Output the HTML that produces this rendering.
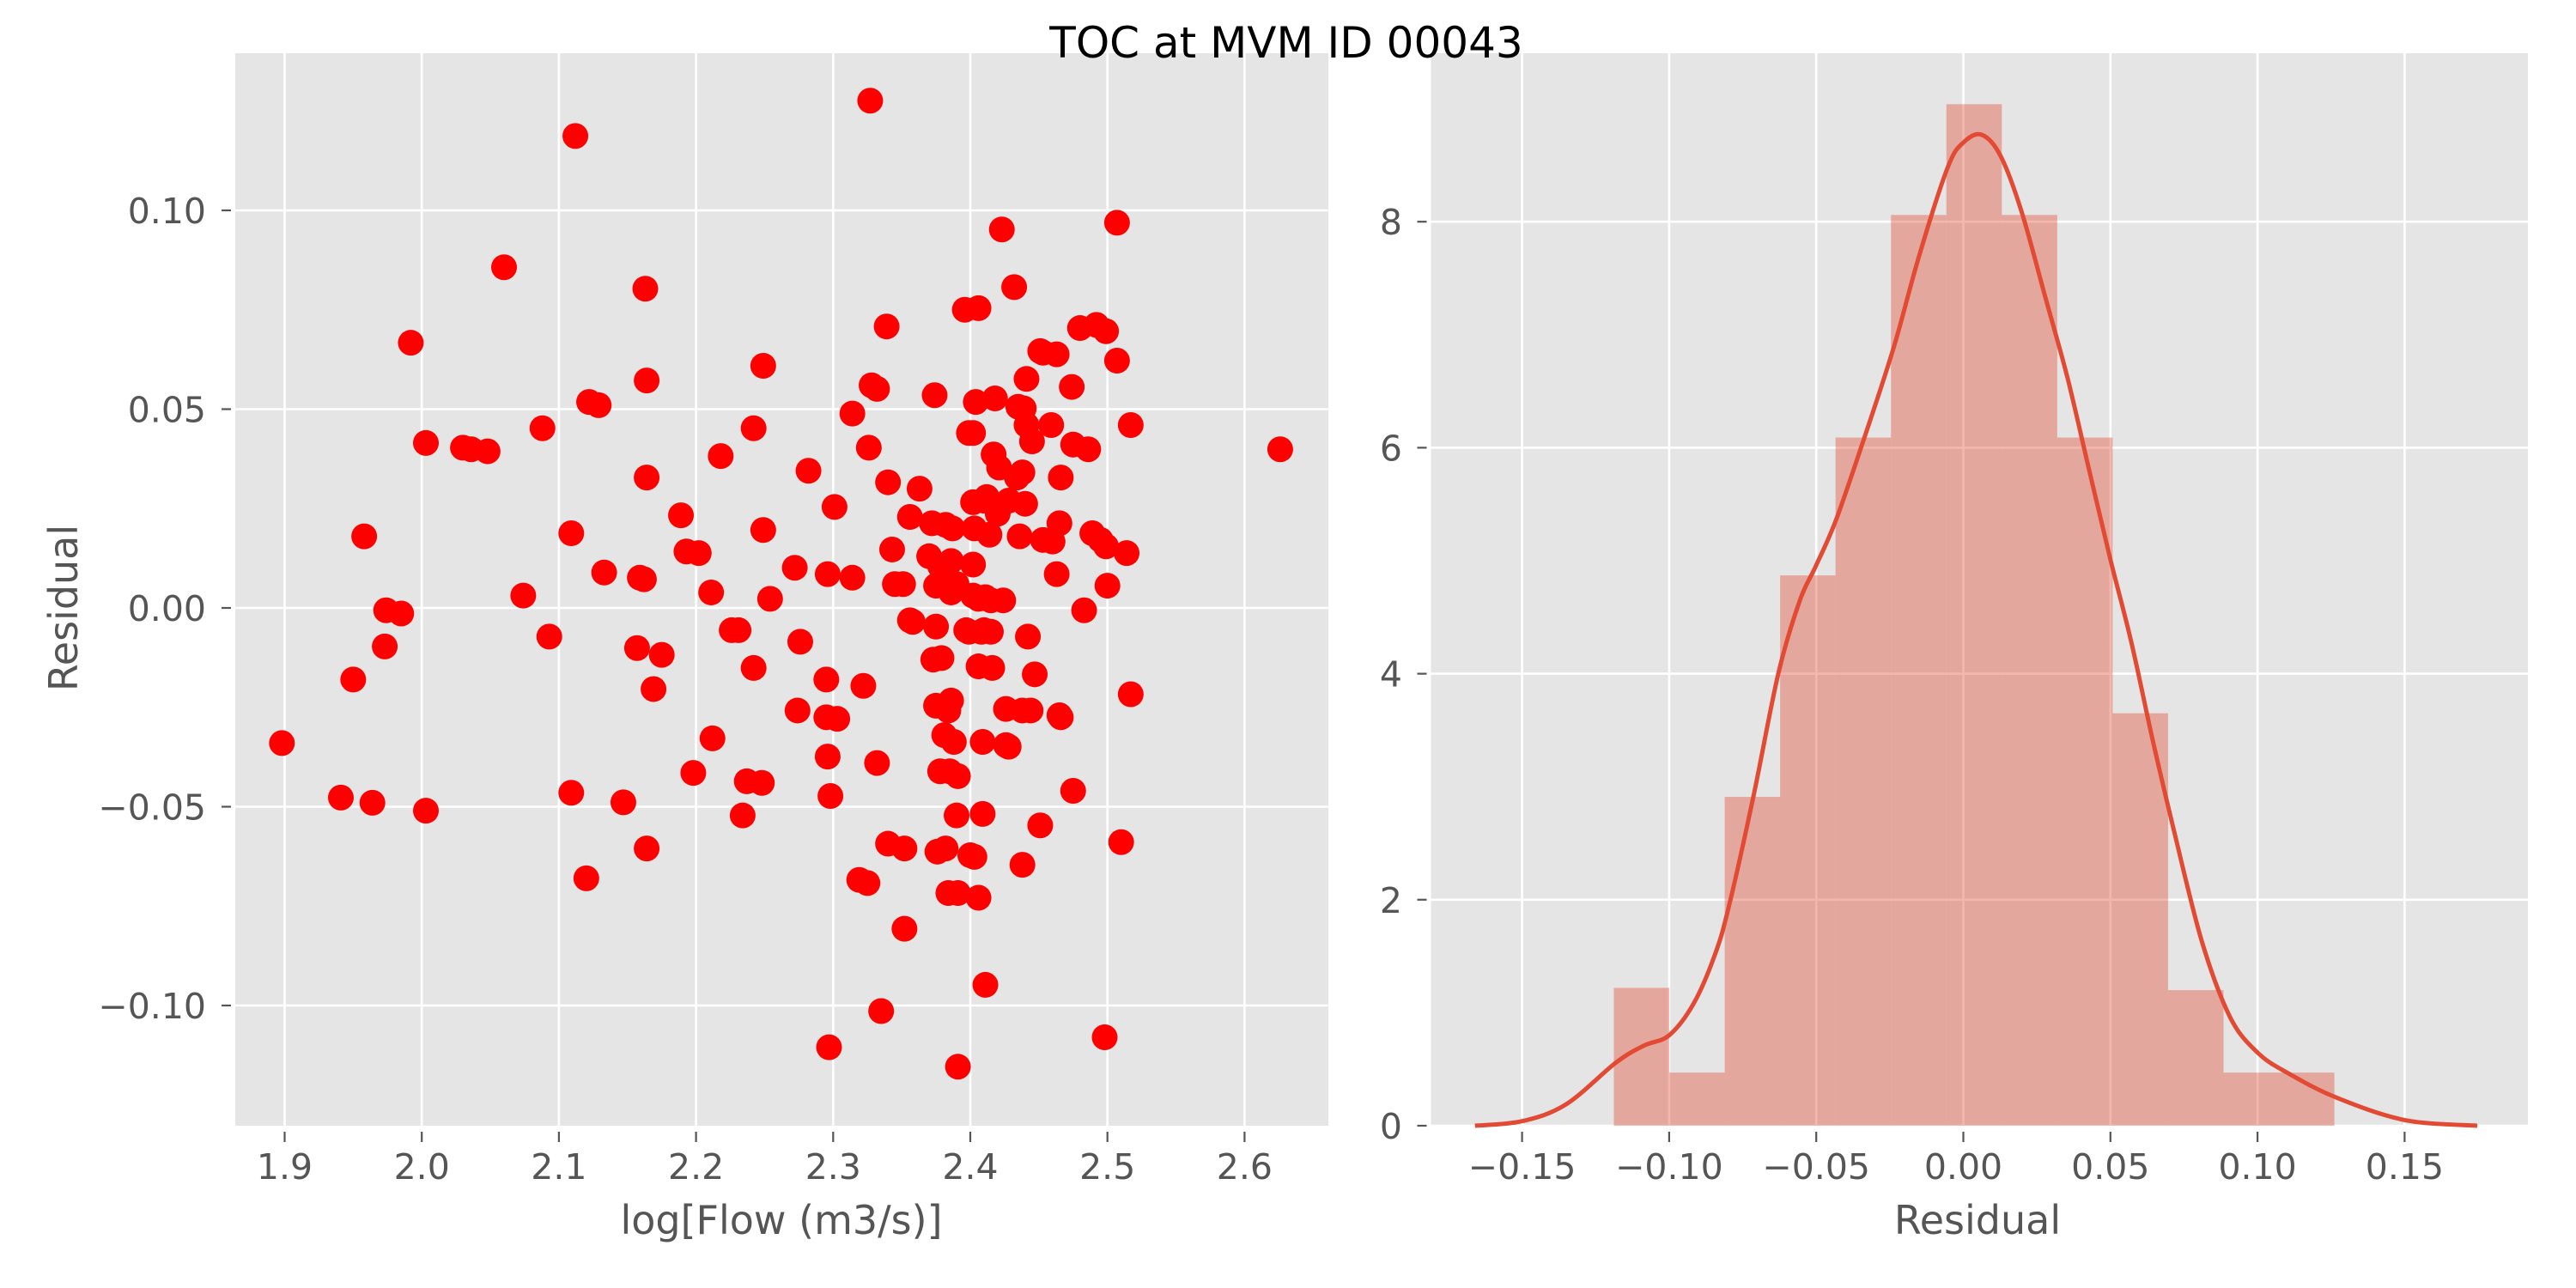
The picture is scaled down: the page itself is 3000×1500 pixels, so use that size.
<!DOCTYPE html>
<html><head><meta charset="utf-8">
<style>
html,body{margin:0;padding:0;background:#fff;}
svg{display:block;font-family:"DejaVu Sans","Liberation Sans",sans-serif;}
</style></head>
<body>
<svg id="fig" width="3000" height="1500" viewBox="0 0 3000 1500" xmlns="http://www.w3.org/2000/svg">
<g id="left"></g>
<g id="right"></g>
<text x="1498" y="67" font-size="50" text-anchor="middle" fill="#000">TOC at MVM ID 00043</text>
</svg>
<script>
// ---- scatter data ----
const scatterX = [1.898,1.941,1.964,2.003,1.950,1.958,1.973,1.974,1.985,1.992,2.003,2.030,2.036,2.048,2.060,2.074,2.088,2.093,2.109,2.109,2.112,2.120,2.122,2.129,2.133,2.147,2.157,2.159,2.162,2.163,2.164,2.164,2.164,2.169,2.175,2.189,2.193,2.198,2.202,2.212,2.211,2.218,2.226,2.231,2.234,2.237,2.242,2.242,2.248,2.249,2.249,2.254,2.272,2.274,2.276,2.282,2.295,2.295,2.296,2.296,2.297,2.298,2.301,2.303,2.314,2.314,2.319,2.322,2.325,2.326,2.327,2.328,2.332,2.332,2.335,2.339,2.340,2.340,2.343,2.345,2.351,2.352,2.352,2.356,2.356,2.358,2.363,2.370,2.372,2.373,2.374,2.375,2.375,2.375,2.376,2.378,2.379,2.378,2.381,2.382,2.382,2.384,2.384,2.386,2.386,2.386,2.385,2.387,2.390,2.388,2.390,2.391,2.391,2.391,2.396,2.397,2.399,2.399,2.400,2.402,2.403,2.403,2.402,2.402,2.402,2.406,2.404,2.406,2.406,2.406,2.408,2.409,2.409,2.410,2.410,2.411,2.411,2.415,2.415,2.416,2.412,2.414,2.417,2.418,2.420,2.421,2.423,2.424,2.426,2.426,2.428,2.428,2.432,2.434,2.435,2.436,2.438,2.439,2.438,2.438,2.440,2.441,2.441,2.442,2.444,2.445,2.447,2.451,2.451,2.453,2.453,2.459,2.460,2.463,2.463,2.465,2.466,2.465,2.466,2.474,2.475,2.475,2.480,2.483,2.486,2.489,2.492,2.495,2.499,2.499,2.500,2.498,2.507,2.507,2.510,2.514,2.517,2.517,2.626];
const scatterY = [-0.034,-0.0477,-0.049,-0.051,-0.018,0.018,-0.0097,-0.0006,-0.0014,0.0667,0.0415,0.0403,0.0399,0.0394,0.0857,0.0031,0.0452,-0.0072,0.0188,-0.0465,0.1187,-0.068,0.0518,0.051,0.0089,-0.0489,-0.0101,0.0076,0.0072,0.0803,0.0572,0.0328,-0.0605,-0.0204,-0.0118,0.0233,0.0142,-0.0415,0.0138,-0.0328,0.0039,0.0382,-0.0056,-0.0056,-0.0522,-0.0436,0.0452,-0.0151,-0.044,0.0609,0.0196,0.0023,0.0101,-0.0258,-0.0085,0.0345,-0.018,-0.0275,0.0085,-0.0374,-0.1105,-0.0473,0.0254,-0.0279,0.0076,0.0489,-0.0684,-0.0196,-0.0692,0.0403,0.1276,0.056,0.0551,-0.039,-0.1014,0.0708,0.0316,-0.0593,0.0147,0.006,0.006,-0.0605,-0.0807,0.0229,-0.0031,-0.0035,0.03,0.013,0.0213,-0.013,0.0535,0.0056,-0.0047,-0.0246,-0.0613,-0.0411,-0.0126,0.0105,-0.032,0.0209,-0.0605,-0.0258,-0.0717,0.0118,0.0039,-0.0233,-0.0411,0.02,0.006,-0.0337,-0.0522,-0.0717,-0.0423,-0.1154,0.075,-0.0056,0.044,-0.006,-0.0622,0.0266,-0.0626,0.02,0.0109,0.0031,0.044,0.0754,0.0518,0.0023,-0.0147,-0.0729,-0.006,-0.0337,-0.0518,0.027,-0.0056,0.0027,-0.0948,0.0019,-0.006,-0.0151,0.0279,0.0184,0.0386,0.0527,0.0237,0.0353,0.0952,0.0019,-0.0254,-0.0345,0.027,-0.0349,0.0807,0.0328,0.0506,0.018,-0.0258,0.0502,0.0341,-0.0646,0.0262,0.0576,0.046,-0.0072,-0.0258,0.0419,-0.0167,-0.0547,0.0646,0.0171,0.0642,0.046,0.0167,0.0638,0.0085,-0.027,-0.0275,0.0213,0.0328,0.0556,-0.046,0.0411,0.0704,-0.0006,0.0399,0.0188,0.0712,0.0171,0.0696,0.0155,0.0056,-0.108,0.0969,0.0622,-0.0589,0.0138,0.046,-0.0217,0.0399];
const scatterXTicks = [1.9,2.0,2.1,2.2,2.3,2.4,2.5,2.6];
const scatterXTickLabels = ["1.9","2.0","2.1","2.2","2.3","2.4","2.5","2.6"];
const scatterYTicks = [0.10,0.05,0.00,-0.05,-0.10];
const scatterYTickLabels = ["0.10","0.05","0.00","\u22120.05","\u22120.10"];
// ---- histogram data ----
const histStart = -0.1188;
const histBinWidth = 0.01884;
const histDensity = [1.22,0.47,2.91,4.87,6.09,8.06,9.04,8.06,6.09,3.65,1.20,0.47,0.47];
const kdeX = [-0.166,-0.15,-0.135,-0.118,-0.1085,-0.100,-0.0917,-0.0845,-0.0797,-0.0713,-0.0629,-0.0557,-0.0502,-0.043,-0.0317,-0.0233,-0.0149,-0.0053,0,0.0062,0.0127,0.0199,0.0283,0.0355,0.0427,0.05,0.0571,0.0643,0.0715,0.0811,0.0907,0.0999,0.110,0.1267,0.15,0.1747];
const kdeY = [0,0.04,0.19,0.56,0.71,0.80,1.08,1.51,1.94,2.92,4.0,4.64,4.95,5.38,6.24,6.92,7.71,8.48,8.70,8.77,8.58,8.08,7.29,6.61,5.81,5.01,4.28,3.42,2.62,1.63,0.96,0.65,0.47,0.25,0.05,0];
const histXTicks = [-0.15,-0.10,-0.05,0.00,0.05,0.10,0.15];
const histXTickLabels = ["\u22120.15","\u22120.10","\u22120.05","0.00","0.05","0.10","0.15"];
const histYTicks = [0,2,4,6,8];
const histYTickLabels = ["0","2","4","6","8"];

const NS = "http://www.w3.org/2000/svg";
function mk(parent, tag, attrs){const e=document.createElementNS(NS,tag);for(const k in attrs)e.setAttribute(k,attrs[k]);parent.appendChild(e);return e;}

// ---- left panel ----
const L = {x0:274,x1:1547,y0:62,y1:1311};
const lx = v => 331.5 + (v-1.9)*1597;
const ly = v => 708 - v*4630;
const left = document.getElementById('left');
const lbg = mk(left,'rect',{x:L.x0,y:L.y0,width:L.x1-L.x0,height:L.y1-L.y0,fill:'#e5e5e5'});


scatterXTicks.forEach((t,i)=>{
  const X=lx(t);
  const g=mk(left,'line',{x1:X,x2:X,y1:L.y0,y2:L.y1,stroke:'#fff','stroke-width':2.6});
  
  
  mk(left,'line',{x1:X,x2:X,y1:L.y1+7,y2:L.y1+19,stroke:'#555','stroke-width':2.2});
  const tx=mk(left,'text',{x:X,y:1373,'font-size':41,fill:'#555','text-anchor':'middle'});
  tx.textContent=scatterXTickLabels[i];
  
  
});
scatterYTicks.forEach((t,i)=>{
  const Y=ly(t);
  const g=mk(left,'line',{x1:L.x0,x2:L.x1,y1:Y,y2:Y,stroke:'#fff','stroke-width':2.6});
  
  
  mk(left,'line',{x1:L.x0-16,x2:L.x0-5,y1:Y,y2:Y,stroke:'#555','stroke-width':2.2});
  const tx=mk(left,'text',{x:240,y:Y+15,'font-size':41,fill:'#555','text-anchor':'end'});
  tx.textContent=scatterYTickLabels[i];
  
  
});
scatterX.forEach((v,i)=>{
  const c=mk(left,'circle',{cx:lx(v),cy:ly(scatterY[i]),r:15,fill:'#ff0000'});
  
  
});
const lxl=mk(left,'text',{x:910,y:1437,'font-size':46,fill:'#555','text-anchor':'middle'});
lxl.textContent='log[Flow (m3/s)]';


const lyl=mk(left,'text',{x:0,y:0,'font-size':46,fill:'#555','text-anchor':'middle',transform:'translate(90,708) rotate(-90)'});
lyl.textContent='Residual';



// ---- right panel ----
const R = {x0:1666.5,x1:2944,y0:62,y1:1311};
const rx = v => 2286.5 + v*3426;
const ry = v => 1311 - v*131.6;
const right = document.getElementById('right');
const rbg=mk(right,'rect',{x:R.x0,y:R.y0,width:R.x1-R.x0,height:R.y1-R.y0,fill:'#e5e5e5'});


histXTicks.forEach((t,i)=>{
  const X=rx(t);
  const g=mk(right,'line',{x1:X,x2:X,y1:R.y0,y2:R.y1,stroke:'#fff','stroke-width':2.6});
  
  
  mk(right,'line',{x1:X,x2:X,y1:R.y1+7,y2:R.y1+19,stroke:'#555','stroke-width':2.2});
  const tx=mk(right,'text',{x:X,y:1373,'font-size':41,fill:'#555','text-anchor':'middle'});
  tx.textContent=histXTickLabels[i];
  
  
});
histYTicks.forEach((t,i)=>{
  const Y=ry(t);
  const g=mk(right,'line',{x1:R.x0,x2:R.x1,y1:Y,y2:Y,stroke:'#fff','stroke-width':2.6});
  
  
  mk(right,'line',{x1:R.x0-16,x2:R.x0-5,y1:Y,y2:Y,stroke:'#555','stroke-width':2.2});
  const tx=mk(right,'text',{x:1633,y:Y+15,'font-size':41,fill:'#555','text-anchor':'end'});
  tx.textContent=histYTickLabels[i];
  
  
});
histDensity.forEach((d,i)=>{
  const a=histStart+i*histBinWidth, b=a+histBinWidth;
  const r=mk(right,'rect',{x:rx(a),y:ry(d),width:rx(b)-rx(a),height:ry(0)-ry(d),fill:'#E24A33','fill-opacity':0.4});
  
  
});
// smooth curve via Catmull-Rom
const pts = kdeX.map((v,i)=>[rx(v), ry(kdeY[i])]);
let dstr='M'+pts[0][0].toFixed(1)+','+pts[0][1].toFixed(1);
for(let i=0;i<pts.length-1;i++){
  const p0=pts[Math.max(0,i-1)],p1=pts[i],p2=pts[i+1],p3=pts[Math.min(pts.length-1,i+2)];
  const c1x=p1[0]+(p2[0]-p0[0])/6, c1y=p1[1]+(p2[1]-p0[1])/6;
  const c2x=p2[0]-(p3[0]-p1[0])/6, c2y=p2[1]-(p3[1]-p1[1])/6;
  dstr+='C'+c1x.toFixed(1)+','+c1y.toFixed(1)+' '+c2x.toFixed(1)+','+c2y.toFixed(1)+' '+p2[0].toFixed(1)+','+p2[1].toFixed(1);
}
const kde=mk(right,'path',{d:dstr,fill:'none',stroke:'#E24A33','stroke-width':5,'stroke-linejoin':'round'});


const rxl=mk(right,'text',{x:2303,y:1437,'font-size':46,fill:'#555','text-anchor':'middle'});
rxl.textContent='Residual';


</script>
</body></html>
